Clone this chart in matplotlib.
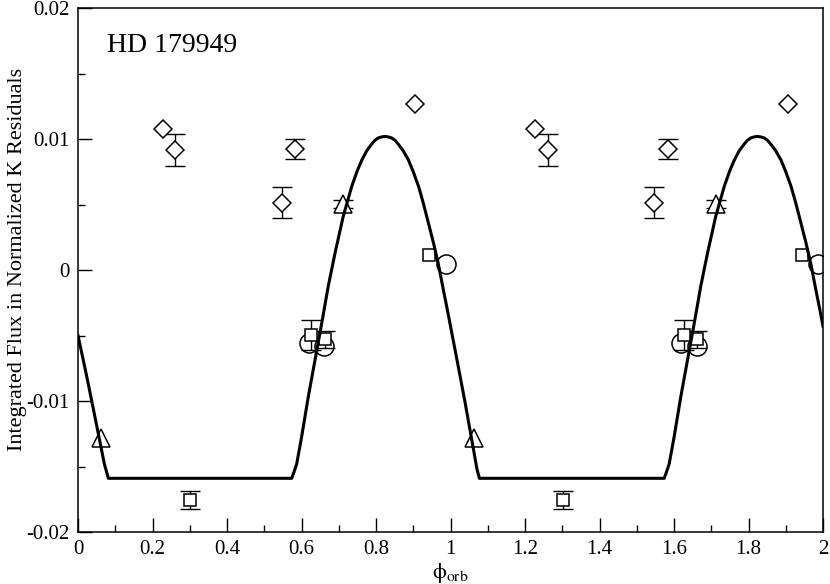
import numpy as np
import matplotlib
matplotlib.use("Agg")
import matplotlib.pyplot as plt

plt.rcParams['font.family'] = ['Liberation Serif', 'DejaVu Serif']
plt.rcParams['mathtext.fontset'] = 'stix'

# ---- data (one orbital cycle, plotted twice) ----
diamond_phase = [0.2277, 0.2604, 0.5826, 0.5468, 0.9056]
diamond_flux = [0.01073, 0.00916, 0.00924, 0.00514, 0.01267]
diamond_err = [0.0, 0.00123, 0.00073, 0.00117, 0.0]

square_phase = [0.3007, 0.9423, 0.6255, 0.6630]
square_flux = [-0.01756, 0.00115, -0.00496, -0.00529]
square_err = [0.00066, 0.0, 0.00117, 0.00064]

circle_phase = [0.9870, 0.6200, 0.6610]
circle_flux = [0.00046, -0.00560, -0.00580]
circle_err = [0.0, 0.0, 0.0]

triangle_phase = [0.0626, 0.7114]
triangle_flux = [-0.01282, 0.00502]
triangle_err = [0.0, 0.0003]

# model curve: start segment, one repeated cycle, and the tail after phase 1
model_start_phase = [0.000, 0.021, 0.039, 0.0707]
model_start_flux = [-0.0050, -0.0078, -0.0103, -0.0148]

model_cycle_phase = [0.0815, 0.5736, 0.580, 0.587, 0.6005, 0.618, 0.636, 0.654, 0.672,
                     0.690, 0.712, 0.735, 0.750, 0.762, 0.775, 0.788, 0.797, 0.806,
                     0.815, 0.824, 0.833, 0.842, 0.851, 0.860, 0.873, 0.887, 0.900,
                     0.914, 0.927, 0.9405, 0.954, 0.967, 0.980, 0.994, 1.000]
model_cycle_flux = [-0.0159, -0.0159, -0.0154, -0.0148, -0.0127, -0.0097, -0.0069,
                    -0.0041, -0.0012, 0.0013, 0.0041, 0.0064, 0.0076, 0.0084, 0.0091,
                    0.0096, 0.0099, 0.01008, 0.01016, 0.0102, 0.01016, 0.01008, 0.0099,
                    0.0096, 0.0091, 0.0084, 0.0075, 0.0064, 0.0051, 0.0036, 0.0021,
                    0.0005, -0.0014, -0.0034, -0.0043]

model_tail_phase = [1.021, 1.039, 1.061, 1.071, 1.0774]
model_tail_flux = [-0.0074, -0.0101, -0.0136, -0.0152, -0.0159]

x_ticks = [0, 0.2, 0.4, 0.6, 0.8, 1, 1.2, 1.4, 1.6, 1.8, 2]
x_ticklabels = ['0', '0.2', '0.4', '0.6', '0.8', '1', '1.2', '1.4', '1.6', '1.8', '2']
y_ticks = [-0.02, -0.01, 0, 0.01, 0.02]
y_ticklabels = ['-0.02', '-0.01', '0', '0.01', '0.02']

title_text = 'HD 179949'
ylabel_text = 'Integrated Flux in Normalized K Residuals'
xlabel_text = r'$\mathrm{\phi}_{\mathrm{orb}}$'

fig = plt.figure(figsize=(8.30, 5.84), dpi=100)
ax = fig.add_axes([0.094, 0.089, 0.8976, 0.8973])


def twice(a):
    a = np.asarray(a, dtype=float)
    return np.concatenate([a, a + 1.0])


def rep(a):
    a = np.asarray(a, dtype=float)
    return np.concatenate([a, a])


def draw(ph, fl, er, marker, ms, z):
    x = twice(ph)
    y = rep(fl)
    e = rep(er)
    has = e > 0
    ax.errorbar(x[has], y[has], yerr=e[has], fmt='none', ecolor='black',
                elinewidth=1.0, capsize=7.5, capthick=1.0, zorder=z)
    ax.plot(x, y, linestyle='none', marker=marker, ms=ms, mfc='white',
            mec='black', mew=1.1, zorder=z + 0.1)


draw(circle_phase, circle_flux, circle_err, 'o', 13.7, 2)
draw(triangle_phase, triangle_flux, triangle_err, '^', 13.2, 3)
draw(diamond_phase, diamond_flux, diamond_err, 'D', 9.6, 4)
draw(square_phase, square_flux, square_err, 's', 9.2, 5)

cp = np.asarray(model_cycle_phase)
cf = np.asarray(model_cycle_flux)
mx = np.concatenate([model_start_phase, cp, model_tail_phase, cp + 1.0])
my = np.concatenate([model_start_flux, cf, model_tail_flux, cf])
ax.plot(mx, my, color='black', lw=2.2, zorder=10, solid_joinstyle='round')

ax.set_xlim(0, 2)
ax.set_ylim(-0.02, 0.02)
ax.set_xticks(x_ticks)
ax.set_xticklabels(x_ticklabels)
ax.set_yticks(y_ticks)
ax.set_yticklabels(y_ticklabels)
ax.set_xticks(np.arange(0.1, 2.0, 0.2), minor=True)
ax.set_yticks([-0.015, -0.005, 0.005, 0.015], minor=True)
ax.tick_params(which='both', direction='in', top=False, right=False,
               labelsize=15, width=1.0, pad=6)
ax.tick_params(which='major', length=10)
ax.tick_params(which='minor', length=5)
for s in ax.spines.values():
    s.set_linewidth(1.1)

ax.set_ylabel(ylabel_text, fontsize=16)
ax.yaxis.set_label_coords(-0.068, 0.521)
ax.set_xlabel(xlabel_text, fontsize=16)
ax.xaxis.set_label_coords(0.5, -0.055)

ax.text(0.039, 0.929, title_text, transform=ax.transAxes, fontsize=20,
        ha='left', va='center')

fig.savefig('out.png', dpi=100)
